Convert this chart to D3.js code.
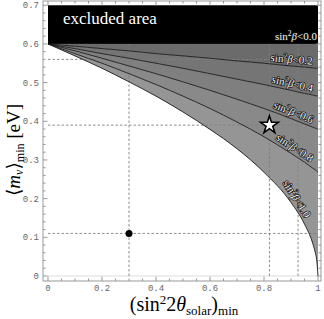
<!DOCTYPE html>
<html lang="en">
<head>
<meta charset="UTF-8">
<title>m_min vs sin2 2theta</title>
<style>
  body { margin: 0; background: #fff; }
  svg { display: block; }
  .tick-label { font-family: "Liberation Mono", "DejaVu Sans Mono", monospace; font-size: 9px; fill: #666; }
  .serif { font-family: "Liberation Serif", "DejaVu Serif", serif; }
  .curve-label { font-family: "Liberation Serif", serif; font-size: 11px; fill: #f2f2f2; stroke: #111; stroke-width: 1.4px; paint-order: stroke; }
</style>
</head>
<body>
<svg id="chart" width="324" height="319"></svg>
<script src="https://d3js.org/d3.v7.min.js"></script>
<script>
// x grid (sin^2 2theta_solar)_min and read-off curve values <m>_min for each sin^2 beta bound
const xGrid = [0, 0.1, 0.2, 0.3, 0.4, 0.5, 0.6, 0.7, 0.8, 0.9, 0.95, 0.98, 0.99, 0.995, 1];
const betaBounds = ["0.0", "0.2", "0.4", "0.6", "0.8", "1.0"];
const curve00 = [0.600, 0.600, 0.600, 0.600, 0.600, 0.600, 0.600, 0.600, 0.600, 0.600, 0.600, 0.600, 0.600, 0.600, 0.600];
const curve02 = [0.600, 0.594, 0.588, 0.582, 0.575, 0.569, 0.563, 0.556, 0.550, 0.543, 0.540, 0.538, 0.537, 0.537, 0.537];
const curve04 = [0.600, 0.588, 0.575, 0.563, 0.550, 0.537, 0.523, 0.509, 0.495, 0.480, 0.472, 0.468, 0.466, 0.466, 0.465];
const curve06 = [0.600, 0.582, 0.563, 0.543, 0.523, 0.502, 0.480, 0.457, 0.433, 0.407, 0.393, 0.385, 0.382, 0.381, 0.379];
const curve08 = [0.600, 0.575, 0.550, 0.523, 0.495, 0.465, 0.433, 0.398, 0.360, 0.317, 0.294, 0.279, 0.274, 0.271, 0.268];
const curve10 = [0.600, 0.569, 0.537, 0.502, 0.465, 0.424, 0.379, 0.329, 0.268, 0.190, 0.134, 0.085, 0.060, 0.042, 0.000];
const curves = [curve00, curve02, curve04, curve06, curve08, curve10];

const bandColors = ["#6b6b6b", "#757575", "#7f7f7f", "#898989", "#959595"];

const excluded = { y0: 0.6, y1: 0.7 };
const refX = [0.3, 0.82, 0.926];
const refY = [0.11, 0.39, 0.56];
const star = { x: 0.82, y: 0.39 };
const dot = { x: 0.3, y: 0.11 };

const xTicks = [0, 0.2, 0.4, 0.6, 0.8, 1];
const yTicks = [0, 0.1, 0.2, 0.3, 0.4, 0.5, 0.6, 0.7];

const svg = d3.select("#chart");
const mLeft = 43, mRight = 321, mTop = 1, mBottom = 281;

const x = d3.scaleLinear().domain([-0.0185, 1.011]).range([mLeft, mRight]);
const y = d3.scaleLinear().domain([-0.013, 0.711]).range([mBottom, mTop]);

const fmt = v => (v === 0 ? "0" : v === 1 ? "1" : d3.format(".1f")(v));

// faint zero line
svg.append("line")
  .attr("x1", x(0)).attr("x2", x(1))
  .attr("y1", y(0)).attr("y2", y(0))
  .attr("stroke", "#ddd").attr("stroke-width", 1);

// bands between consecutive curves
const band = d3.area()
  .x(d => x(d.x))
  .y0(d => y(d.lo))
  .y1(d => y(d.hi))
  .curve(d3.curveMonotoneX);

for (let i = 0; i < curves.length - 1; i++) {
  const pts = xGrid.map((xv, j) => ({ x: xv, hi: curves[i][j], lo: curves[i + 1][j] }));
  svg.append("path").attr("d", band(pts)).attr("fill", bandColors[i]);
}

// dashed reference lines
const dash = "2.5,2";
svg.append("g").selectAll("line").data(refX).join("line")
  .attr("x1", d => x(d)).attr("x2", d => x(d))
  .attr("y1", y(0)).attr("y2", y(0.6))
  .attr("stroke", "#808080").attr("stroke-width", 0.9).attr("stroke-dasharray", dash);
svg.append("g").selectAll("line").data(refY).join("line")
  .attr("x1", x(0)).attr("x2", x(1))
  .attr("y1", d => y(d)).attr("y2", d => y(d))
  .attr("stroke", "#808080").attr("stroke-width", 0.9).attr("stroke-dasharray", dash);

// curve lines
const line = d3.line()
  .x((d, j) => x(xGrid[j]))
  .y(d => y(d))
  .curve(d3.curveMonotoneX);
curves.slice(1).forEach(c => {
  svg.append("path").attr("d", line(c))
    .attr("fill", "none").attr("stroke", "#1a1a1a").attr("stroke-width", 0.9);
});

// excluded area
svg.append("rect")
  .attr("x", x(0)).attr("y", y(excluded.y1))
  .attr("width", x(1) - x(0)).attr("height", y(excluded.y0) - y(excluded.y1))
  .attr("fill", "#000");
svg.append("text").attr("class", "serif")
  .attr("x", 63).attr("y", 24)
  .attr("font-size", 17).attr("fill", "#fff")
  .text("excluded area");

// curve labels
function addLabel(g, bound) {
  const t = g.append("text").attr("class", "curve-label");
  t.append("tspan").text("sin");
  t.append("tspan").attr("font-size", 7.5).attr("dy", -4).text("2");
  t.append("tspan").attr("font-style", "italic").attr("dy", 4).text("β");
  t.append("tspan").text("<" + bound);
  return t;
}

betaBounds.forEach((b, i) => {
  const g = svg.append("g");
  if (i === 0) {
    addLabel(g, b).attr("x", x(1) - 1).attr("y", 40).attr("text-anchor", "end");
    return;
  }
  const j = xGrid.indexOf(0.9), k = xGrid.indexOf(0.95);
  const px0 = x(xGrid[j]), py0 = y(curves[i][j]);
  const px1 = x(xGrid[k]), py1 = y(curves[i][k]);
  const ang = Math.atan2(py1 - py0, px1 - px0);
  const off = 7;
  const ox = px0 + off * Math.sin(ang), oy = py0 - off * Math.cos(ang);
  g.attr("transform", `translate(${ox},${oy}) rotate(${ang * 180 / Math.PI})`);
  addLabel(g, b).attr("x", 0).attr("y", 0).attr("dy", "0.35em").attr("text-anchor", "middle");
});

// star and dot
const starPath = d3.symbol().type(d3.symbolStar).size(95);
svg.append("path").attr("d", starPath())
  .attr("transform", `translate(${x(star.x)},${y(star.y)})`)
  .attr("fill", "#fff").attr("stroke", "#000").attr("stroke-width", 1.6);
svg.append("circle").attr("cx", x(dot.x)).attr("cy", y(dot.y)).attr("r", 3.5).attr("fill", "#000");

// frame with inward ticks on all sides
const frame = svg.append("g").attr("stroke", "#999").attr("stroke-width", 1).attr("fill", "none");
frame.append("rect").attr("x", mLeft).attr("y", mTop).attr("width", mRight - mLeft).attr("height", mBottom - mTop);

const xMinor = d3.range(0, 1.0001, 0.05);
const yMinor = d3.range(0, 0.7001, 0.02);
xMinor.forEach(v => {
  const major = xTicks.some(t => Math.abs(t - v) < 1e-6);
  const len = major ? 4.5 : 2.5;
  frame.append("line").attr("x1", x(v)).attr("x2", x(v)).attr("y1", mBottom).attr("y2", mBottom - len);
  frame.append("line").attr("x1", x(v)).attr("x2", x(v)).attr("y1", mTop).attr("y2", mTop + len);
});
yMinor.forEach(v => {
  const major = yTicks.some(t => Math.abs(t - v) < 1e-6);
  const len = major ? 4.5 : 2.5;
  frame.append("line").attr("x1", mLeft).attr("x2", mLeft + len).attr("y1", y(v)).attr("y2", y(v));
  frame.append("line").attr("x1", mRight).attr("x2", mRight - len).attr("y1", y(v)).attr("y2", y(v));
});

svg.append("g").selectAll("text").data(xTicks).join("text")
  .attr("class", "tick-label")
  .attr("x", d => x(d)).attr("y", 291)
  .attr("text-anchor", "middle")
  .text(fmt);
svg.append("g").selectAll("text").data(yTicks).join("text")
  .attr("class", "tick-label")
  .attr("x", 39).attr("y", d => y(d)).attr("dy", "0.35em")
  .attr("text-anchor", "end")
  .text(fmt);

// axis titles
const xt = svg.append("text").attr("class", "serif")
  .attr("x", 184).attr("y", 311).attr("text-anchor", "middle").attr("font-size", 20);
xt.append("tspan").text("(sin");
xt.append("tspan").attr("font-size", 13).attr("dy", -7).text("2");
xt.append("tspan").attr("dy", 7).text("2");
xt.append("tspan").attr("font-style", "italic").text("θ");
xt.append("tspan").attr("font-size", 13).attr("dy", 4).text("solar");
xt.append("tspan").attr("dy", -4).text(")");
xt.append("tspan").attr("font-size", 13).attr("dy", 4).text("min");

const yt = svg.append("text").attr("class", "serif")
  .attr("transform", "translate(20,150) rotate(-90)")
  .attr("text-anchor", "middle").attr("font-size", 19);
yt.append("tspan").text("⟨");
yt.append("tspan").attr("font-style", "italic").text("m");
yt.append("tspan").attr("font-style", "italic").attr("font-size", 12).attr("dy", 3).text("ν");
yt.append("tspan").attr("dy", -3).text("⟩");
yt.append("tspan").attr("font-size", 12).attr("dy", 4).text("min");
yt.append("tspan").attr("dy", -4).text(" [eV]");
</script>
</body>
</html>
